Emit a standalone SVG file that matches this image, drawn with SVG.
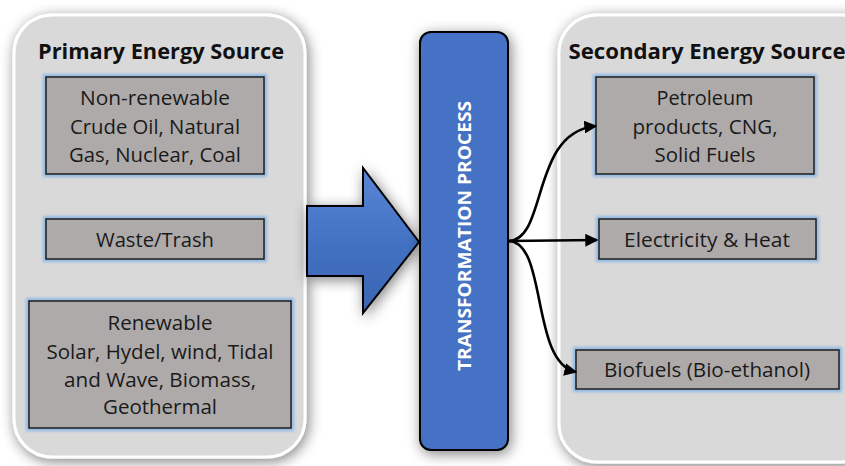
<svg xmlns="http://www.w3.org/2000/svg" width="845" height="466" viewBox="0 0 845 466">
<defs>
<filter id="shadow" x="-20%" y="-20%" width="140%" height="140%">
<feGaussianBlur in="SourceAlpha" stdDeviation="7"/>
<feOffset dx="2" dy="3" result="b"/>
<feComponentTransfer><feFuncA type="linear" slope="0.5"/></feComponentTransfer>
<feMerge><feMergeNode/><feMergeNode in="SourceGraphic"/></feMerge>
</filter>
<filter id="glow" x="-10%" y="-20%" width="120%" height="140%">
<feGaussianBlur stdDeviation="1.8"/>
</filter>
<linearGradient id="arrowGrad" x1="0" y1="0" x2="0" y2="1">
<stop offset="0" stop-color="#5a86d6"/>
<stop offset="0.5" stop-color="#4472c4"/>
<stop offset="1" stop-color="#3a64b0"/>
</linearGradient>
<marker id="ah" viewBox="0 0 10 10" refX="9" refY="5" markerWidth="5" markerHeight="5" orient="auto" markerUnits="strokeWidth">
<path d="M0,0 L10,5 L0,10 z" fill="#000"/>
</marker>
<style>
.panel{fill:#d9d9d9;stroke:#ffffff;stroke-width:3}
.box{fill:#aeaaaa;stroke:#1e1e1e;stroke-width:1.5}
.glowr{fill:none;stroke:#8fb8e3;stroke-width:6}
.title{font-family:"Open Sans","Liberation Sans",sans-serif;font-weight:bold;font-size:22px;fill:#111;text-anchor:middle}
.lbl{font-family:"Open Sans","Liberation Sans",sans-serif;font-size:19.5px;fill:#1a1a1a;text-anchor:middle}
.conn{fill:none;stroke:#000;stroke-width:2.6;marker-end:url(#ah)}
</style>
</defs>
<rect width="845" height="466" fill="#ffffff"/>

<g id="primary-panel">
<rect class="panel" x="14" y="15" width="291" height="442" rx="38" filter="url(#shadow)"/>
<text class="title" x="161" y="59" textLength="246" lengthAdjust="spacingAndGlyphs">Primary Energy Source</text>
</g>

<g id="non-renewable">
<rect class="glowr" x="46" y="77" width="218" height="97" filter="url(#glow)"/>
<rect class="box" x="46" y="77" width="218" height="97"/>
<text class="lbl" x="155" y="105" textLength="150" lengthAdjust="spacingAndGlyphs">Non-renewable</text>
<text class="lbl" x="155" y="134" textLength="170" lengthAdjust="spacingAndGlyphs">Crude Oil, Natural</text>
<text class="lbl" x="155" y="162" textLength="172" lengthAdjust="spacingAndGlyphs">Gas, Nuclear, Coal</text>
</g>

<g id="waste">
<rect class="glowr" x="46" y="219" width="218" height="40" filter="url(#glow)"/>
<rect class="box" x="46" y="219" width="218" height="40"/>
<text class="lbl" x="155" y="247" textLength="118" lengthAdjust="spacingAndGlyphs">Waste/Trash</text>
</g>

<g id="renewable">
<rect class="glowr" x="29" y="301" width="262" height="127" filter="url(#glow)"/>
<rect class="box" x="29" y="301" width="262" height="127"/>
<text class="lbl" x="160" y="330" textLength="105" lengthAdjust="spacingAndGlyphs">Renewable</text>
<text class="lbl" x="160" y="359" textLength="227" lengthAdjust="spacingAndGlyphs">Solar, Hydel, wind, Tidal</text>
<text class="lbl" x="160" y="387" textLength="192" lengthAdjust="spacingAndGlyphs">and Wave, Biomass,</text>
<text class="lbl" x="160" y="414" textLength="114" lengthAdjust="spacingAndGlyphs">Geothermal</text>
</g>

<g id="big-arrow">
<path d="M307,206 L363,206 L363,168 L419,242 L363,313 L363,276 L307,276 Z" fill="url(#arrowGrad)" stroke="#000" stroke-width="2" stroke-linejoin="miter" filter="url(#shadow)"/>
</g>

<g id="transformation">
<rect x="420" y="32" width="88" height="418" rx="11" fill="#4472c4" stroke="#000" stroke-width="2" filter="url(#shadow)"/>
<text x="0" y="0" transform="translate(471,236) rotate(-90)" font-family="'Open Sans','Liberation Sans',sans-serif" font-size="17" font-weight="bold" fill="#ffffff" text-anchor="middle" textLength="270" lengthAdjust="spacingAndGlyphs">TRANSFORMATION PROCESS</text>
</g>

<g id="secondary-panel">
<rect class="panel" x="559" y="15" width="320" height="447" rx="38" filter="url(#shadow)"/>
<text class="title" x="707" y="59" textLength="277" lengthAdjust="spacingAndGlyphs">Secondary Energy Source</text>
</g>

<g id="petroleum">
<rect class="glowr" x="596" y="77" width="218" height="97" filter="url(#glow)"/>
<rect class="box" x="596" y="77" width="218" height="97"/>
<text class="lbl" x="705" y="105" textLength="97" lengthAdjust="spacingAndGlyphs">Petroleum</text>
<text class="lbl" x="705" y="134" textLength="145" lengthAdjust="spacingAndGlyphs">products, CNG,</text>
<text class="lbl" x="705" y="162" textLength="101" lengthAdjust="spacingAndGlyphs">Solid Fuels</text>
</g>

<g id="electricity">
<rect class="glowr" x="599" y="219" width="217" height="40" filter="url(#glow)"/>
<rect class="box" x="599" y="219" width="217" height="40"/>
<text class="lbl" x="707" y="247" textLength="166" lengthAdjust="spacingAndGlyphs">Electricity &amp; Heat</text>
</g>

<g id="biofuels">
<rect class="glowr" x="576" y="350" width="263" height="39" filter="url(#glow)"/>
<rect class="box" x="576" y="350" width="263" height="39"/>
<text class="lbl" x="707" y="377" textLength="206" lengthAdjust="spacingAndGlyphs">Biofuels (Bio-ethanol)</text>
</g>

<g id="connectors">
<path class="conn" d="M508,241 C548,241 530,132 596,126"/>
<path class="conn" d="M508,241 L597,240"/>
<path class="conn" d="M508,241 C548,241 530,362 576,372"/>
</g>
</svg>
